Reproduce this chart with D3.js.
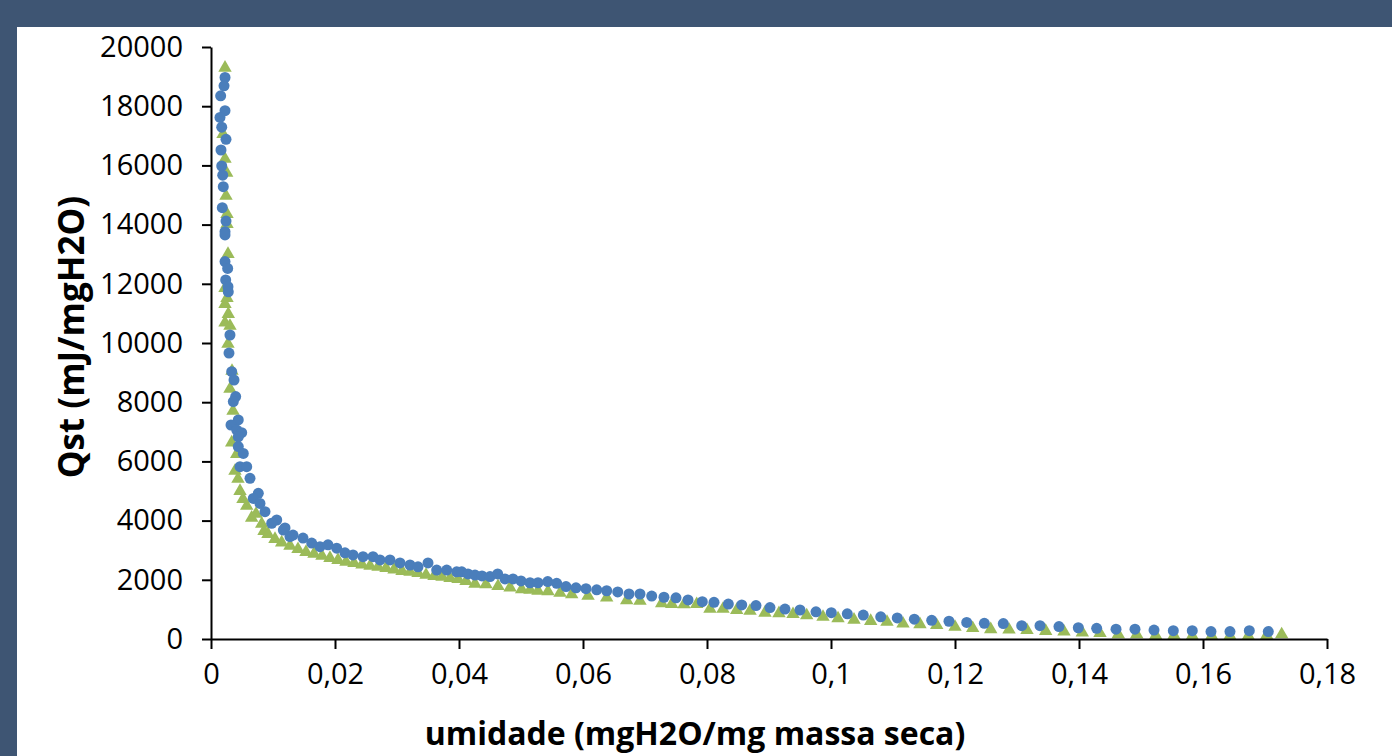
<!DOCTYPE html>
<html lang="pt">
<head>
<meta charset="utf-8">
<title>Qst x umidade</title>
<script src="https://cdn.jsdelivr.net/npm/d3@7"></script>
<style>
  body { margin: 0; background: #3e5573; }
  text { font-family: "Open Sans", "Noto Sans", sans-serif; fill: #000; }
</style>
</head>
<body>
<div id="chart"></div>
<script>
// umidade (mgH2O/mg massa seca) and Qst (mJ/mgH2O), series 1 (blue circles)
var blueX = [0.00226,0.0021,0.00156,0.00226,0.00145,0.00173,0.00242,0.00161,0.00173,0.00189,
  0.00198,0.00182,0.00242,0.00226,0.00226,0.00226,0.00269,0.00237,0.00274,0.00279,
  0.00306,0.0029,0.00334,0.00371,0.00398,0.0036,0.0044,0.00323,0.00415,0.00495,
  0.0044,0.0044,0.00521,0.00468,0.00576,0.00629,0.00763,0.00682,0.0079,0.00871,
  0.0106,0.00979,0.01166,0.01274,0.01194,0.01323,0.01484,0.01624,0.01758,0.01887,
  0.02027,0.02161,0.0229,0.02452,0.02613,0.02726,0.02887,0.03048,0.0321,0.03339,
  0.035,0.0364,0.03802,0.03963,0.04044,0.04145,0.04258,0.04371,0.045,0.04624,
  0.04742,0.04871,0.05,0.05145,0.05274,0.05431,0.05576,0.05726,0.05887,0.06048,
  0.06221,0.06382,0.0656,0.06742,0.06919,0.07108,0.07306,0.075,0.07694,0.07924,
  0.08113,0.08344,0.0856,0.0879,0.09016,0.09258,0.095,0.09758,0.10005,0.10263,
  0.10521,0.10802,0.11069,0.11344,0.11624,0.11903,0.12189,0.12473,0.12779,0.13076,
  0.13371,0.13677,0.13989,0.14285,0.14597,0.14903,0.1521,0.15521,0.15827,0.16129,
  0.16435,0.16747,0.17053];
var blueY = [18970,18690,18350,17850,17620,17290,16880,16520,15980,15670,
  15280,14570,14120,13760,13650,12750,12520,12130,11900,11730,
  10270,9660,9030,8750,8190,8020,7400,7230,7060,6970,
  6830,6500,6270,5820,5820,5430,4920,4750,4580,4300,
  4020,3910,3680,3460,3750,3510,3410,3240,3120,3180,
  3070,2910,2840,2780,2780,2670,2670,2570,2500,2440,
  2570,2330,2330,2270,2270,2200,2160,2130,2110,2200,
  2030,2030,1960,1900,1900,1940,1880,1770,1730,1700,
  1660,1630,1590,1520,1520,1450,1410,1390,1320,1260,
  1240,1180,1150,1130,1060,1010,980,920,890,850,
  810,750,710,670,630,600,560,530,520,450,
  450,420,380,360,330,330,300,280,280,250,
  250,280,250];

// series 2 (green triangles)
var greenX = [0.00226,0.00194,0.00226,0.00253,0.00242,0.00258,0.00258,0.00274,0.00226,0.00258,
  0.00226,0.00279,0.00226,0.00306,0.00274,0.00339,0.00306,0.00355,0.00334,0.00415,
  0.00387,0.00435,0.00468,0.00516,0.00576,0.00656,0.00726,0.00818,0.00855,0.00919,
  0.01032,0.0114,0.01274,0.01403,0.01532,0.01661,0.0179,0.01919,0.02048,0.02177,
  0.02306,0.02435,0.02565,0.02694,0.02823,0.02952,0.03081,0.0321,0.03339,0.03468,
  0.03597,0.03726,0.03855,0.03984,0.04113,0.04258,0.04435,0.04629,0.04823,0.05011,
  0.05145,0.05274,0.05435,0.05629,0.05818,0.06081,0.06382,0.06705,0.06919,0.07269,
  0.07431,0.07629,0.07834,0.08048,0.08258,0.08479,0.08694,0.08935,0.09161,0.09387,
  0.09608,0.09871,0.10113,0.10371,0.1064,0.10903,0.11161,0.11435,0.11705,0.12,
  0.12285,0.12576,0.12871,0.13161,0.13463,0.13758,0.14053,0.14339,0.14634,0.14931,
  0.15237,0.15532,0.15827,0.1614,0.16435,0.16731,0.17027,0.17269];
var greenY = [19330,17090,16250,15780,15000,14390,14050,13040,11890,11550,
  11350,11010,10720,10610,10000,9090,8480,7740,6670,6280,
  5710,5440,5030,4760,4530,4130,4260,3920,3680,3580,
  3410,3290,3180,3070,2970,2910,2840,2770,2700,2640,
  2600,2550,2500,2470,2430,2380,2330,2300,2260,2200,
  2160,2130,2090,2060,1990,1900,1880,1820,1770,1710,
  1690,1660,1640,1590,1540,1490,1430,1340,1320,1240,
  1210,1200,1210,1050,1050,1010,980,920,900,870,
  830,780,730,680,640,610,550,530,500,440,
  400,360,350,330,300,280,250,230,190,190,
  160,160,140,140,140,140,160,190];

var xTicks = [0, 0.02, 0.04, 0.06, 0.08, 0.1, 0.12, 0.14, 0.16, 0.18];
var yTicks = [0, 2000, 4000, 6000, 8000, 10000, 12000, 14000, 16000, 18000, 20000];

var width = 1392, height = 756;
var svg = d3.select("#chart").append("svg")
  .attr("width", width)
  .attr("height", height);

svg.append("rect").attr("width", width).attr("height", height).attr("fill", "#3e5573");
svg.append("rect").attr("x", 17).attr("y", 27)
  .attr("width", width - 17).attr("height", height - 27).attr("fill", "#ffffff");

var x = d3.scaleLinear().domain([0, 0.18]).range([211, 1327]);
var y = d3.scaleLinear().domain([0, 20000]).range([639, 47]);

var pt = d3.formatLocale({decimal: ",", thousands: ".", grouping: [3], currency: ["", ""]});

// green triangles first, blue circles on top
var tri = d3.symbol().type(d3.symbolTriangle).size(78);
svg.append("g").selectAll("path")
  .data(greenX.map(function (v, i) { return [v, greenY[i]]; }))
  .enter().append("path")
  .attr("d", tri)
  .attr("transform", function (d) { return "translate(" + x(d[0]) + "," + (y(d[1]) + 1) + ")"; })
  .attr("fill", "#9bbb59");

svg.append("g").selectAll("circle")
  .data(blueX.map(function (v, i) { return [v, blueY[i]]; }))
  .enter().append("circle")
  .attr("cx", function (d) { return x(d[0]); })
  .attr("cy", function (d) { return y(d[1]); })
  .attr("r", 5.5)
  .attr("fill", "#4a7ebb");

var xAxis = svg.append("g")
  .attr("transform", "translate(0,639)")
  .call(d3.axisBottom(x).tickValues(xTicks).tickSize(10).tickSizeOuter(0).tickPadding(14)
    .tickFormat(pt.format("~g")));
var yAxis = svg.append("g")
  .attr("transform", "translate(211,0)")
  .call(d3.axisLeft(y).tickValues(yTicks).tickSize(9).tickSizeOuter(0).tickPadding(19)
    .tickFormat(d3.format("d")));

[xAxis, yAxis].forEach(function (a) {
  a.select(".domain").attr("stroke", "#000").attr("stroke-width", 2);
  a.selectAll(".tick line").attr("stroke", "#000").attr("stroke-width", 2);
  a.selectAll(".tick text").attr("font-size", 29).attr("font-family", null).attr("fill", "#000");
});
xAxis.selectAll(".tick text").attr("dy", "0.71em");

svg.append("text")
  .attr("x", 695).attr("y", 734)
  .attr("dy", "0.35em")
  .attr("text-anchor", "middle")
  .attr("font-size", 32).attr("font-weight", "bold")
  .text("umidade (mgH2O/mg massa seca)");

svg.append("text")
  .attr("transform", "translate(72,337) rotate(-90)")
  .attr("dy", "0.35em")
  .attr("text-anchor", "middle")
  .attr("font-size", 35).attr("font-weight", "bold")
  .text("Qst (mJ/mgH2O)");
</script>
</body>
</html>
